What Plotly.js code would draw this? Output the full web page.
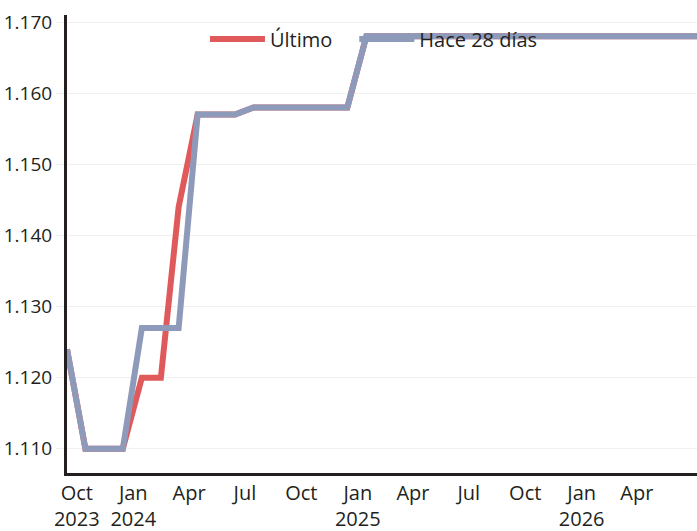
<!DOCTYPE html>
<html>
<head>
<meta charset="utf-8">
<script src="https://cdn.plot.ly/plotly-3.0.1.min.js"></script>
<style>html,body{margin:0;padding:0;background:#fff;}#chart{width:697px;height:531px;}</style>
</head>
<body>
<div id="chart"></div>
<script>
const dates = [
  "2023-09-15","2023-10-15","2023-11-15","2023-12-15",
  "2024-01-15","2024-02-15","2024-03-15","2024-04-15","2024-05-15","2024-06-15",
  "2024-07-15","2024-08-15","2024-09-15","2024-10-15","2024-11-15","2024-12-15",
  "2025-01-15","2025-02-15","2025-03-15","2025-04-15","2025-05-15","2025-06-15",
  "2025-07-15","2025-08-15","2025-09-15","2025-10-15","2025-11-15","2025-12-15",
  "2026-01-15","2026-02-15","2026-03-15","2026-04-15","2026-05-15","2026-06-15","2026-07-15"
];
const ultimo = [
  1.124,1.110,1.110,1.110,
  1.120,1.120,1.144,1.157,1.157,1.157,
  1.158,1.158,1.158,1.158,1.158,1.158,
  1.168,1.168,1.168,1.168,1.168,1.168,
  1.168,1.168,1.168,1.168,1.168,1.168,
  1.168,1.168,1.168,1.168,1.168,1.168,1.168
];
const hace28 = [
  1.124,1.110,1.110,1.110,
  1.127,1.127,1.127,1.157,1.157,1.157,
  1.158,1.158,1.158,1.158,1.158,1.158,
  1.168,1.168,1.168,1.168,1.168,1.168,
  1.168,1.168,1.168,1.168,1.168,1.168,
  1.168,1.168,1.168,1.168,1.168,1.168,1.168
];
const seriesNames = ["Último", "Hace 28 días"];
const xTickVals = ["2023-10-01","2024-01-01","2024-04-01","2024-07-01","2024-10-01",
  "2025-01-01","2025-04-01","2025-07-01","2025-10-01","2026-01-01","2026-04-01"];
const xTickText = ["Oct<br>2023","Jan<br>2024","Apr","Jul","Oct",
  "Jan<br>2025","Apr","Jul","Oct","Jan<br>2026","Apr"];

const FONT = "'Open Sans', sans-serif";
const traces = [
  {x: dates, y: ultimo, name: seriesNames[0], type: "scatter", mode: "lines",
   legend: "legend", line: {color: "#e05a5b", width: 6}},
  {x: dates, y: hace28, name: seriesNames[1], type: "scatter", mode: "lines",
   legend: "legend2", line: {color: "#8e9aba", width: 6}}
];
const legendBase = {orientation: "h", xanchor: "left", y: 0.99, yanchor: "top",
  itemwidth: 55,
  bgcolor: "rgba(0,0,0,0)", font: {family: FONT, size: 20, color: "#231f20"}};
const layout = {
  width: 697, height: 531,
  margin: {l: 67, r: 0, t: 15, b: 58},
  paper_bgcolor: "#ffffff", plot_bgcolor: "#ffffff",
  font: {family: FONT, size: 19, color: "#231f20"},
  showlegend: true,
  legend: Object.assign({}, legendBase, {x: 0.219}),
  legend2: Object.assign({}, legendBase, {x: 0.456}),
  xaxis: {
    type: "date", range: ["2023-09-15", "2026-07-08"],
    tickmode: "array", tickvals: xTickVals, ticktext: xTickText,
    showgrid: false, zeroline: false,
    showline: true, linecolor: "#231f20", linewidth: 3,
    ticks: "", tickfont: {family: FONT, size: 20, color: "#231f20"}
  },
  yaxis: {
    range: [1.1066, 1.171], dtick: 0.01, tick0: 1.11, tickformat: ".3f",
    showgrid: true, gridcolor: "#f0f0f0", gridwidth: 1, zeroline: false,
    showline: true, linecolor: "#231f20", linewidth: 3,
    ticks: "outside", ticklen: 8, tickcolor: "#eeeeee", tickwidth: 1,
    tickfont: {family: FONT, size: 19, color: "#231f20"}
  }
};
Plotly.newPlot("chart", traces, layout, {displayModeBar: false, staticPlot: true});
</script>
</body>
</html>
